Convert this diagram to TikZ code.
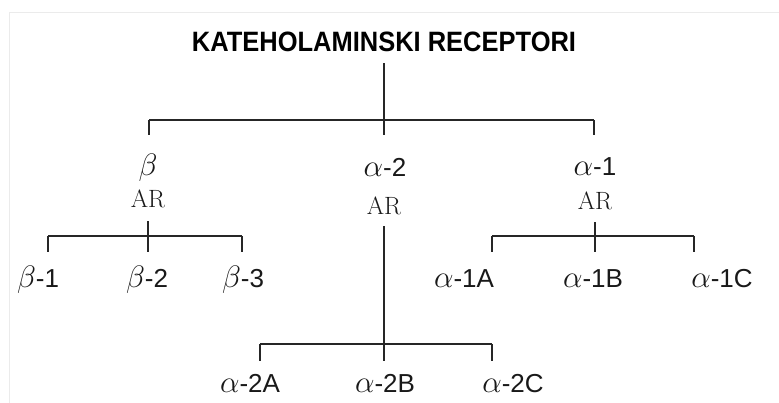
\RequirePackage{fix-cm}
\documentclass[tikz,border=0pt]{standalone}
\usepackage{fontspec}
\newfontfamily\arialfont{Liberation Sans}
\newfontfamily\titlefont{Liberation Sans}[FakeStretch=0.91]
\usetikzlibrary{positioning}

\newcommand\gk[1]{{\fontsize{31}{34}\selectfont$#1$}}
\tikzset{
  rec/.style={font=\arialfont\fontsize{26}{30}\selectfont, anchor=base, inner sep=0pt},
  ar/.style={font=\fontsize{25}{29}\selectfont, anchor=base, inner sep=0pt},
}

\begin{document}
\begin{tikzpicture}[x=1pt, y=-1pt, line width=1.6pt, draw=black!85, text=black!90]
        \useasboundingbox (0,0) rectangle (779,403);
        % Frame
        \draw[black!8, line width=1pt] (9,403) -- (9,13) -- (779,13);

        % Nodes
        \node[font=\titlefont\bfseries\fontsize{28}{32}\selectfont, anchor=base, inner sep=0pt, text=black] (title) at (384,52) {KATEHOLAMINSKI RECEPTORI};
        \node[rec] (b)   at (148,176) {\gk{\beta}};
        \node[ar]  (bAR) at (148,208) {AR};
        \node[rec] (a2)   at (385,177) {\gk{\alpha}-2};
        \node[ar]  (a2AR) at (384,215) {AR};
        \node[rec] (a1)   at (595,176) {\gk{\alpha}-1};
        \node[ar]  (a1AR) at (595,210) {AR};

        \node[rec] (b1) at (38,288)  {\gk{\beta}-1};
        \node[rec] (b2) at (147,288) {\gk{\beta}-2};
        \node[rec] (b3) at (243,288) {\gk{\beta}-3};
        \node[rec] (a1A) at (464,288) {\gk{\alpha}-1A};
        \node[rec] (a1B) at (593,288) {\gk{\alpha}-1B};
        \node[rec] (a1C) at (722,288) {\gk{\alpha}-1C};
        \node[rec] (a2A) at (250,392) {\gk{\alpha}-2A};
        \node[rec] (a2B) at (385,392) {\gk{\alpha}-2B};
        \node[rec] (a2C) at (513,392) {\gk{\alpha}-2C};

        % Junctions
        \coordinate (j0)  at (384,120);
        \coordinate (jb)  at (149,120);
        \coordinate (ja1) at (594,120);
        \coordinate (sbL) at (48,236);
        \coordinate (sbM) at (148,236);
        \coordinate (sbR) at (242,236);
        \coordinate (sa1L) at (492,236);
        \coordinate (sa1M) at (595,236);
        \coordinate (sa1R) at (694,236);
        \coordinate (sa2L) at (260,344);
        \coordinate (sa2M) at (384,344);
        \coordinate (sa2R) at (492,344);

        % Edges
        \draw[shorten <=10pt] (title.south) -- (j0);
        \draw (jb) -- (ja1);
        \foreach \c in {jb,j0,ja1} \draw (\c) -- ++(0,15);

        \draw[shorten <=12pt] (bAR.south) -- (sbM);
        \draw (sbL) -- (sbR);
        \foreach \c in {sbL,sbM,sbR} \draw (\c) -- ++(0,16);

        \draw[shorten <=11pt] (a1AR.south) -- (sa1M);
        \draw (sa1L) -- (sa1R);
        \foreach \c in {sa1L,sa1M,sa1R} \draw (\c) -- ++(0,16);

        \draw[shorten <=10pt] (a2AR.south) -- (sa2M);
        \draw (sa2L) -- (sa2R);
        \foreach \c in {sa2L,sa2M,sa2R} \draw (\c) -- ++(0,17);

      \end{tikzpicture}
\end{document}
